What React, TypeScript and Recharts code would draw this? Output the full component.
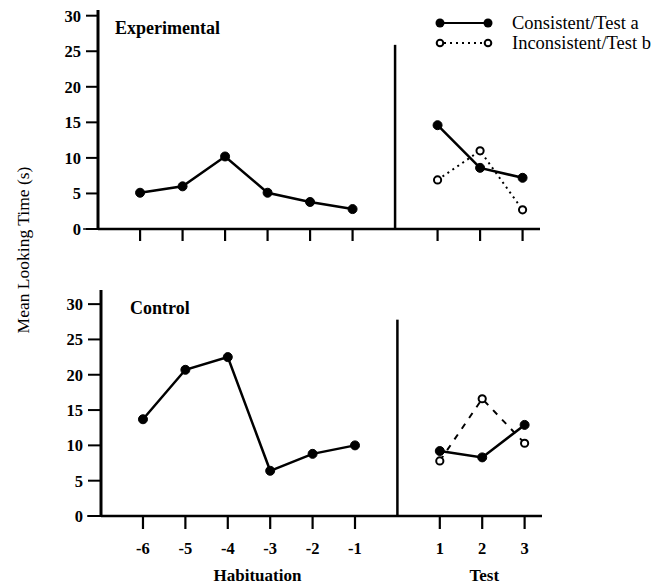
import React from 'react';
import { LineChart, Line, XAxis, YAxis, ReferenceLine, Label } from 'recharts';

// Trial labels along the shared x axis
const habituationTrials = ['-6', '-5', '-4', '-3', '-2', '-1'];
const testTrials = ['1', '2', '3'];
const valueTicks = [0, 5, 10, 15, 20, 25, 30];

// Experimental group, mean looking time (s)
const expHabituation = [5.1, 6.0, 10.2, 5.1, 3.8, 2.8];
const expConsistent = [14.6, 8.6, 7.2];
const expInconsistent = [6.9, 11.0, 2.7];

// Control group, mean looking time (s)
const ctlHabituation = [13.7, 20.7, 22.5, 6.4, 8.8, 10.0];
const ctlConsistent = [9.2, 8.3, 12.9];
const ctlInconsistent = [7.8, 16.6, 10.3];

// Slot 6 is the gap between the habituation and test phases
const TEST_OFFSET = 7;
const DIVIDER_POS = 6;
const X_DOMAIN: [number, number] = [-0.99, 9.41];
const X_TICKS = [0, 1, 2, 3, 4, 5, 7, 8, 9];

const SERIF = 'Liberation Serif';

type Row = { pos: number; habituation?: number; consistent?: number; inconsistent?: number };

function buildRows(hab: number[], cons: number[], incons: number[]): Row[] {
  return [
    ...hab.map((v, i) => ({ pos: i, habituation: v })),
    ...cons.map((v, i) => ({ pos: TEST_OFFSET + i, consistent: v, inconsistent: incons[i] })),
  ];
}

const expRows = buildRows(expHabituation, expConsistent, expInconsistent);
const ctlRows = buildRows(ctlHabituation, ctlConsistent, ctlInconsistent);

const trialLabel = (pos: number) =>
  pos < habituationTrials.length ? habituationTrials[pos] : testTrials[pos - TEST_OFFSET] ?? '';

const filledDot = { r: 4.5, fill: '#000', stroke: '#000', strokeWidth: 1 };
const openDot = { r: 3.6, fill: '#fff', stroke: '#000', strokeWidth: 2, strokeDasharray: 'none' };

const tickStyle = { fontFamily: SERIF, fontSize: 16.5, fontWeight: 700, fill: '#000' };
const boldText = { fontFamily: SERIF, fontSize: 18, fontWeight: 700, fill: '#000' };

function PhaseLabels(props: any) {
  const vb = props.viewBox || {};
  const toX = (p: number) => vb.x + ((p - X_DOMAIN[0]) / (X_DOMAIN[1] - X_DOMAIN[0])) * vb.width;
  const y = vb.y + 65;
  return (
    <g>
      <text x={toX(2.7)} y={y} textAnchor="middle" fontFamily={SERIF} fontSize={17} fontWeight={700} fill="#000">
        Habituation
      </text>
      <text x={toX(8.05)} y={y} textAnchor="middle" fontFamily={SERIF} fontSize={17} fontWeight={700} fill="#000">
        Test
      </text>
    </g>
  );
}

function PanelTitle({ text, dx, dy }: { text: string; dx: number; dy: number }) {
  return (props: any) => {
    const vb = props.viewBox || {};
    return (
      <text x={vb.x + vb.width + dx} y={vb.y + dy} {...boldText}>
        {text}
      </text>
    );
  };
}

function ControlYLabels(props: any) {
  const vb = props.viewBox || {};
  const titleX = vb.x + 23;
  const titleY = 250;
  return (
    <g>
      <text x={vb.x + vb.width + 29} y={vb.y + 24} {...boldText}>
        Control
      </text>
      <text
        x={titleX}
        y={titleY}
        textAnchor="middle"
        dominantBaseline="central"
        transform={`rotate(-90 ${titleX} ${titleY})`}
        fontFamily={SERIF}
        fontSize={17.5}
        fill="#000"
      >
        Mean Looking Time (s)
      </text>
    </g>
  );
}

function LegendBlock() {
  const rowStyle: React.CSSProperties = {
    display: 'flex',
    alignItems: 'center',
    height: 20,
    fontFamily: SERIF,
    fontSize: 18.5,
    color: '#000',
    whiteSpace: 'nowrap',
  };
  return (
    <div style={{ position: 'absolute', left: 434, top: 13 }}>
      <div style={rowStyle}>
        <svg width={60} height={14} style={{ marginRight: 18 }}>
          <line x1={6} y1={7} x2={54} y2={7} stroke="#000" strokeWidth={2} />
          <circle cx={6} cy={7} r={4.5} fill="#000" />
          <circle cx={54} cy={7} r={4.5} fill="#000" />
        </svg>
        <span>Consistent/Test a</span>
      </div>
      <div style={rowStyle}>
        <svg width={60} height={14} style={{ marginRight: 18 }}>
          <line x1={10} y1={7} x2={50} y2={7} stroke="#000" strokeWidth={2} strokeDasharray="2 4" />
          <circle cx={6} cy={7} r={3.3} fill="#fff" stroke="#000" strokeWidth={2} />
          <circle cx={54} cy={7} r={3.3} fill="#fff" stroke="#000" strokeWidth={2} />
        </svg>
        <span>Inconsistent/Test b</span>
      </div>
    </div>
  );
}

export default function App() {
  return (
    <div style={{ position: 'absolute', left: 0, top: 0, width: 658, height: 588, background: '#fff' }}>
      {/* Control panel (full-height canvas, plot in the lower half) */}
      <div style={{ position: 'absolute', left: 0, top: 0 }}>
        <LineChart width={658} height={588} data={ctlRows} margin={{ top: 290, right: 116, left: 0, bottom: 0 }}>
          <XAxis
            type="number"
            dataKey="pos"
            domain={X_DOMAIN}
            ticks={X_TICKS}
            interval={0}
            allowDataOverflow
            height={72}
            tickFormatter={trialLabel}
            tick={tickStyle}
            tickSize={13}
            tickMargin={13}
            axisLine={{ stroke: '#000', strokeWidth: 2.5 }}
            tickLine={{ stroke: '#000', strokeWidth: 2.2 }}
          >
            <Label content={PhaseLabels} />
          </XAxis>
          <YAxis
            type="number"
            domain={[0, 32]}
            ticks={valueTicks}
            allowDataOverflow
            width={101}
            tick={tickStyle}
            tickSize={13}
            tickMargin={5}
            axisLine={{ stroke: '#000', strokeWidth: 3 }}
            tickLine={{ stroke: '#000', strokeWidth: 2 }}
          >
            <Label content={ControlYLabels} />
          </YAxis>
          <ReferenceLine
            segment={[{ x: DIVIDER_POS, y: 0 }, { x: DIVIDER_POS, y: 27.8 }]}
            stroke="#000"
            strokeWidth={2.5}
          />
          <ReferenceLine
            segment={[{ x: -1.32, y: 0 }, { x: -0.99, y: 0 }]}
            ifOverflow="visible"
            stroke="#000"
            strokeWidth={1.5}
          />
          <Line dataKey="habituation" stroke="#000" strokeWidth={2.5} dot={filledDot} isAnimationActive={false} />
          <Line dataKey="consistent" stroke="#000" strokeWidth={2.5} dot={filledDot} isAnimationActive={false} />
          <Line
            dataKey="inconsistent"
            stroke="#000"
            strokeWidth={2}
            strokeDasharray="6 7"
            dot={openDot}
            isAnimationActive={false}
          />
        </LineChart>
      </div>

      {/* Experimental panel */}
      <div style={{ position: 'absolute', left: 0, top: 0 }}>
        <LineChart width={658} height={250} data={expRows} margin={{ top: 10, right: 118, left: 0, bottom: 0 }}>
          <XAxis
            type="number"
            dataKey="pos"
            domain={X_DOMAIN}
            ticks={X_TICKS}
            interval={0}
            allowDataOverflow
            height={21}
            tickFormatter={() => ''}
            tickSize={12}
            axisLine={{ stroke: '#000', strokeWidth: 2.5 }}
            tickLine={{ stroke: '#000', strokeWidth: 2.2 }}
          />
          <YAxis
            type="number"
            domain={[0, 30.8]}
            ticks={valueTicks}
            allowDataOverflow
            width={98}
            tick={tickStyle}
            tickSize={12}
            tickMargin={5}
            axisLine={{ stroke: '#000', strokeWidth: 3 }}
            tickLine={{ stroke: '#000', strokeWidth: 2 }}
          >
            <Label content={PanelTitle({ text: 'Experimental', dx: 17, dy: 24 })} />
          </YAxis>
          <ReferenceLine
            segment={[{ x: DIVIDER_POS, y: 0 }, { x: DIVIDER_POS, y: 25.9 }]}
            stroke="#000"
            strokeWidth={2.5}
          />
          <ReferenceLine
            segment={[{ x: -1.34, y: 0 }, { x: -0.99, y: 0 }]}
            ifOverflow="visible"
            stroke="#000"
            strokeWidth={1.5}
          />
          <Line dataKey="habituation" stroke="#000" strokeWidth={2.5} dot={filledDot} isAnimationActive={false} />
          <Line dataKey="consistent" stroke="#000" strokeWidth={2.5} dot={filledDot} isAnimationActive={false} />
          <Line
            dataKey="inconsistent"
            stroke="#000"
            strokeWidth={2}
            strokeDasharray="2 4"
            dot={openDot}
            isAnimationActive={false}
          />
        </LineChart>
      </div>

      <LegendBlock />
    </div>
  );
}
